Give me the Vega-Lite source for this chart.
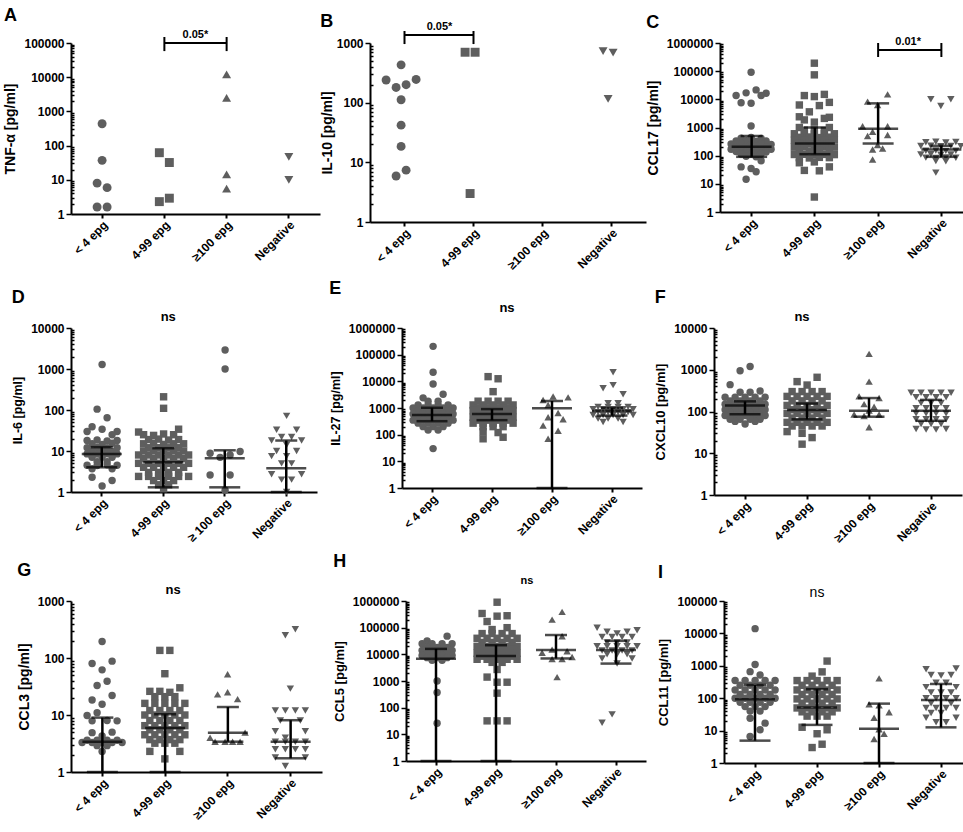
{
  "$schema": "https://vega.github.io/schema/vega-lite/v6.json",
  "padding": {"left": 3, "top": 7, "right": 0, "bottom": 0},
  "background": "white",
  "spacing": 8,
  "datasets": {
    "A": [
      {"group": "< 4 epg", "value": 436, "slot": 0},
      {"group": "< 4 epg", "value": 37, "slot": 0},
      {"group": "< 4 epg", "value": 8, "slot": -1},
      {"group": "< 4 epg", "value": 5.9, "slot": 1},
      {"group": "< 4 epg", "value": 1.6, "slot": -1},
      {"group": "< 4 epg", "value": 1.6, "slot": 1},
      {"group": "4-99 epg", "value": 62, "slot": -1},
      {"group": "4-99 epg", "value": 32, "slot": 1},
      {"group": "4-99 epg", "value": 2.9, "slot": 1},
      {"group": "4-99 epg", "value": 2.3, "slot": -1},
      {"group": "≥100 epg", "value": 12000, "slot": 0},
      {"group": "≥100 epg", "value": 2500, "slot": 0},
      {"group": "≥100 epg", "value": 14.5, "slot": 0},
      {"group": "≥100 epg", "value": 5.5, "slot": 0},
      {"group": "Negative", "value": 47, "slot": 0},
      {"group": "Negative", "value": 10, "slot": 0}
    ],
    "B": [
      {"group": "< 4 epg", "value": 430, "slot": 0},
      {"group": "< 4 epg", "value": 245, "slot": 3},
      {"group": "< 4 epg", "value": 240, "slot": -3},
      {"group": "< 4 epg", "value": 200, "slot": 1},
      {"group": "< 4 epg", "value": 180, "slot": -1},
      {"group": "< 4 epg", "value": 112, "slot": 0},
      {"group": "< 4 epg", "value": 42, "slot": 0},
      {"group": "< 4 epg", "value": 18.5, "slot": 0},
      {"group": "< 4 epg", "value": 7.4, "slot": 1},
      {"group": "< 4 epg", "value": 5.9, "slot": -1},
      {"group": "4-99 epg", "value": 700, "slot": -1},
      {"group": "4-99 epg", "value": 700, "slot": 1},
      {"group": "4-99 epg", "value": 3, "slot": 0},
      {"group": "Negative", "value": 730, "slot": -1},
      {"group": "Negative", "value": 690, "slot": 1},
      {"group": "Negative", "value": 116, "slot": 0}
    ],
    "C": [
      {"group": "< 4 epg", "value": 92000, "slot": 0},
      {"group": "< 4 epg", "value": 21600, "slot": 1},
      {"group": "< 4 epg", "value": 17000, "slot": -1},
      {"group": "< 4 epg", "value": 16500, "slot": 3},
      {"group": "< 4 epg", "value": 13600, "slot": -3},
      {"group": "< 4 epg", "value": 13600, "slot": 2},
      {"group": "< 4 epg", "value": 7600, "slot": -2},
      {"group": "< 4 epg", "value": 7300, "slot": 0},
      {"group": "< 4 epg", "value": 1130, "slot": 0},
      {"group": "< 4 epg", "value": 420, "slot": -2},
      {"group": "< 4 epg", "value": 440, "slot": 0},
      {"group": "< 4 epg", "value": 410, "slot": 2},
      {"group": "< 4 epg", "value": 330, "slot": -3},
      {"group": "< 4 epg", "value": 340, "slot": -1},
      {"group": "< 4 epg", "value": 320, "slot": 1},
      {"group": "< 4 epg", "value": 335, "slot": 3},
      {"group": "< 4 epg", "value": 260, "slot": -4},
      {"group": "< 4 epg", "value": 270, "slot": -2},
      {"group": "< 4 epg", "value": 255, "slot": 0},
      {"group": "< 4 epg", "value": 265, "slot": 2},
      {"group": "< 4 epg", "value": 250, "slot": 4},
      {"group": "< 4 epg", "value": 210, "slot": -3},
      {"group": "< 4 epg", "value": 205, "slot": -1},
      {"group": "< 4 epg", "value": 215, "slot": 1},
      {"group": "< 4 epg", "value": 200, "slot": 3},
      {"group": "< 4 epg", "value": 170, "slot": -4},
      {"group": "< 4 epg", "value": 175, "slot": -2},
      {"group": "< 4 epg", "value": 165, "slot": 0},
      {"group": "< 4 epg", "value": 172, "slot": 2},
      {"group": "< 4 epg", "value": 168, "slot": 4},
      {"group": "< 4 epg", "value": 140, "slot": -3},
      {"group": "< 4 epg", "value": 138, "slot": -1},
      {"group": "< 4 epg", "value": 142, "slot": 1},
      {"group": "< 4 epg", "value": 136, "slot": 3},
      {"group": "< 4 epg", "value": 115, "slot": -2},
      {"group": "< 4 epg", "value": 112, "slot": 0},
      {"group": "< 4 epg", "value": 118, "slot": 2},
      {"group": "< 4 epg", "value": 95, "slot": -1},
      {"group": "< 4 epg", "value": 92, "slot": 1},
      {"group": "< 4 epg", "value": 66, "slot": 2},
      {"group": "< 4 epg", "value": 40, "slot": -2},
      {"group": "< 4 epg", "value": 35, "slot": 0},
      {"group": "< 4 epg", "value": 27, "slot": 1},
      {"group": "< 4 epg", "value": 14.6, "slot": -1},
      {"group": "4-99 epg", "value": 192000, "slot": 0},
      {"group": "4-99 epg", "value": 74000, "slot": 0},
      {"group": "4-99 epg", "value": 15000, "slot": 2},
      {"group": "4-99 epg", "value": 13600, "slot": -2},
      {"group": "4-99 epg", "value": 12500, "slot": 0},
      {"group": "4-99 epg", "value": 7800, "slot": 3},
      {"group": "4-99 epg", "value": 6300, "slot": -3},
      {"group": "4-99 epg", "value": 6000, "slot": 1},
      {"group": "4-99 epg", "value": 3600, "slot": -1},
      {"group": "4-99 epg", "value": 2400, "slot": -3},
      {"group": "4-99 epg", "value": 2300, "slot": 3},
      {"group": "4-99 epg", "value": 2100, "slot": 2},
      {"group": "4-99 epg", "value": 1860, "slot": -2},
      {"group": "4-99 epg", "value": 1550, "slot": 0},
      {"group": "4-99 epg", "value": 1000, "slot": -3},
      {"group": "4-99 epg", "value": 1000, "slot": 3},
      {"group": "4-99 epg", "value": 800, "slot": -2},
      {"group": "4-99 epg", "value": 820, "slot": 0},
      {"group": "4-99 epg", "value": 780, "slot": 2},
      {"group": "4-99 epg", "value": 600, "slot": -4},
      {"group": "4-99 epg", "value": 620, "slot": -2},
      {"group": "4-99 epg", "value": 590, "slot": 0},
      {"group": "4-99 epg", "value": 610, "slot": 2},
      {"group": "4-99 epg", "value": 600, "slot": 4},
      {"group": "4-99 epg", "value": 450, "slot": -3},
      {"group": "4-99 epg", "value": 460, "slot": -1},
      {"group": "4-99 epg", "value": 440, "slot": 1},
      {"group": "4-99 epg", "value": 455, "slot": 3},
      {"group": "4-99 epg", "value": 350, "slot": -4},
      {"group": "4-99 epg", "value": 355, "slot": -2},
      {"group": "4-99 epg", "value": 345, "slot": 0},
      {"group": "4-99 epg", "value": 350, "slot": 2},
      {"group": "4-99 epg", "value": 360, "slot": 4},
      {"group": "4-99 epg", "value": 270, "slot": -3},
      {"group": "4-99 epg", "value": 275, "slot": -1},
      {"group": "4-99 epg", "value": 265, "slot": 1},
      {"group": "4-99 epg", "value": 270, "slot": 3},
      {"group": "4-99 epg", "value": 200, "slot": -4},
      {"group": "4-99 epg", "value": 205, "slot": -2},
      {"group": "4-99 epg", "value": 198, "slot": 0},
      {"group": "4-99 epg", "value": 202, "slot": 2},
      {"group": "4-99 epg", "value": 200, "slot": 4},
      {"group": "4-99 epg", "value": 150, "slot": -3},
      {"group": "4-99 epg", "value": 148, "slot": -1},
      {"group": "4-99 epg", "value": 152, "slot": 1},
      {"group": "4-99 epg", "value": 150, "slot": 3},
      {"group": "4-99 epg", "value": 110, "slot": -4},
      {"group": "4-99 epg", "value": 112, "slot": -2},
      {"group": "4-99 epg", "value": 108, "slot": 0},
      {"group": "4-99 epg", "value": 111, "slot": 2},
      {"group": "4-99 epg", "value": 109, "slot": 4},
      {"group": "4-99 epg", "value": 85, "slot": -3},
      {"group": "4-99 epg", "value": 83, "slot": -1},
      {"group": "4-99 epg", "value": 87, "slot": 1},
      {"group": "4-99 epg", "value": 85, "slot": 3},
      {"group": "4-99 epg", "value": 60, "slot": 0},
      {"group": "4-99 epg", "value": 56, "slot": -3},
      {"group": "4-99 epg", "value": 40, "slot": 3},
      {"group": "4-99 epg", "value": 30, "slot": -2},
      {"group": "4-99 epg", "value": 29, "slot": 1},
      {"group": "4-99 epg", "value": 3.4, "slot": 0},
      {"group": "≥100 epg", "value": 15000, "slot": 2},
      {"group": "≥100 epg", "value": 8300, "slot": -2},
      {"group": "≥100 epg", "value": 6300, "slot": 0},
      {"group": "≥100 epg", "value": 1100, "slot": -3},
      {"group": "≥100 epg", "value": 1100, "slot": 2},
      {"group": "≥100 epg", "value": 710, "slot": -1},
      {"group": "≥100 epg", "value": 540, "slot": 2},
      {"group": "≥100 epg", "value": 500, "slot": -2},
      {"group": "≥100 epg", "value": 240, "slot": 0},
      {"group": "≥100 epg", "value": 180, "slot": 1},
      {"group": "≥100 epg", "value": 165, "slot": -1},
      {"group": "≥100 epg", "value": 73, "slot": -1},
      {"group": "Negative", "value": 10000, "slot": -2},
      {"group": "Negative", "value": 10000, "slot": 2},
      {"group": "Negative", "value": 5800, "slot": 0},
      {"group": "Negative", "value": 300, "slot": -3},
      {"group": "Negative", "value": 310, "slot": -1},
      {"group": "Negative", "value": 295, "slot": 1},
      {"group": "Negative", "value": 305, "slot": 3},
      {"group": "Negative", "value": 220, "slot": -4},
      {"group": "Negative", "value": 225, "slot": -2},
      {"group": "Negative", "value": 215, "slot": 0},
      {"group": "Negative", "value": 222, "slot": 2},
      {"group": "Negative", "value": 218, "slot": 4},
      {"group": "Negative", "value": 150, "slot": -3},
      {"group": "Negative", "value": 152, "slot": -1},
      {"group": "Negative", "value": 148, "slot": 1},
      {"group": "Negative", "value": 150, "slot": 3},
      {"group": "Negative", "value": 110, "slot": -4},
      {"group": "Negative", "value": 112, "slot": -2},
      {"group": "Negative", "value": 108, "slot": 0},
      {"group": "Negative", "value": 110, "slot": 2},
      {"group": "Negative", "value": 85, "slot": -3},
      {"group": "Negative", "value": 83, "slot": -1},
      {"group": "Negative", "value": 87, "slot": 1},
      {"group": "Negative", "value": 84, "slot": 3},
      {"group": "Negative", "value": 65, "slot": -1},
      {"group": "Negative", "value": 63, "slot": 1},
      {"group": "Negative", "value": 25, "slot": -1}
    ],
    "D": [
      {"group": "< 4 epg", "value": 1290, "slot": 0},
      {"group": "< 4 epg", "value": 105, "slot": -1},
      {"group": "< 4 epg", "value": 65, "slot": 1},
      {"group": "< 4 epg", "value": 39, "slot": -2},
      {"group": "< 4 epg", "value": 34, "slot": 0},
      {"group": "< 4 epg", "value": 30, "slot": 3},
      {"group": "< 4 epg", "value": 30, "slot": -3},
      {"group": "< 4 epg", "value": 25, "slot": 2},
      {"group": "< 4 epg", "value": 18, "slot": -3},
      {"group": "< 4 epg", "value": 18.5, "slot": -1},
      {"group": "< 4 epg", "value": 17.5, "slot": 1},
      {"group": "< 4 epg", "value": 18, "slot": 3},
      {"group": "< 4 epg", "value": 15, "slot": -2},
      {"group": "< 4 epg", "value": 14.5, "slot": 0},
      {"group": "< 4 epg", "value": 15.5, "slot": 2},
      {"group": "< 4 epg", "value": 12, "slot": -3},
      {"group": "< 4 epg", "value": 12.2, "slot": -1},
      {"group": "< 4 epg", "value": 11.8, "slot": 1},
      {"group": "< 4 epg", "value": 12, "slot": 3},
      {"group": "< 4 epg", "value": 10, "slot": -2},
      {"group": "< 4 epg", "value": 10.2, "slot": 0},
      {"group": "< 4 epg", "value": 9.8, "slot": 2},
      {"group": "< 4 epg", "value": 8.5, "slot": -3},
      {"group": "< 4 epg", "value": 8.4, "slot": -1},
      {"group": "< 4 epg", "value": 8.6, "slot": 1},
      {"group": "< 4 epg", "value": 8.5, "slot": 3},
      {"group": "< 4 epg", "value": 7, "slot": -2},
      {"group": "< 4 epg", "value": 7, "slot": 0},
      {"group": "< 4 epg", "value": 7, "slot": 2},
      {"group": "< 4 epg", "value": 5.5, "slot": -1},
      {"group": "< 4 epg", "value": 5.5, "slot": 1},
      {"group": "< 4 epg", "value": 4.5, "slot": -3},
      {"group": "< 4 epg", "value": 4.4, "slot": -1},
      {"group": "< 4 epg", "value": 4.6, "slot": 1},
      {"group": "< 4 epg", "value": 4.5, "slot": 3},
      {"group": "< 4 epg", "value": 3.7, "slot": -2},
      {"group": "< 4 epg", "value": 3.7, "slot": 2},
      {"group": "< 4 epg", "value": 2.3, "slot": -2},
      {"group": "< 4 epg", "value": 1.9, "slot": 2},
      {"group": "< 4 epg", "value": 1.4, "slot": 0},
      {"group": "4-99 epg", "value": 210, "slot": 0},
      {"group": "4-99 epg", "value": 110, "slot": 0},
      {"group": "4-99 epg", "value": 34, "slot": 3},
      {"group": "4-99 epg", "value": 29, "slot": -5},
      {"group": "4-99 epg", "value": 25, "slot": -4},
      {"group": "4-99 epg", "value": 24, "slot": -2},
      {"group": "4-99 epg", "value": 26, "slot": 0},
      {"group": "4-99 epg", "value": 25, "slot": 2},
      {"group": "4-99 epg", "value": 19, "slot": -3},
      {"group": "4-99 epg", "value": 19.5, "slot": -1},
      {"group": "4-99 epg", "value": 18.5, "slot": 1},
      {"group": "4-99 epg", "value": 19, "slot": 3},
      {"group": "4-99 epg", "value": 15, "slot": -4},
      {"group": "4-99 epg", "value": 15.5, "slot": -2},
      {"group": "4-99 epg", "value": 14.5, "slot": 0},
      {"group": "4-99 epg", "value": 15, "slot": 2},
      {"group": "4-99 epg", "value": 15, "slot": 4},
      {"group": "4-99 epg", "value": 12, "slot": -3},
      {"group": "4-99 epg", "value": 12, "slot": -1},
      {"group": "4-99 epg", "value": 12, "slot": 1},
      {"group": "4-99 epg", "value": 12, "slot": 3},
      {"group": "4-99 epg", "value": 10, "slot": -4},
      {"group": "4-99 epg", "value": 10, "slot": -2},
      {"group": "4-99 epg", "value": 10, "slot": 0},
      {"group": "4-99 epg", "value": 10, "slot": 2},
      {"group": "4-99 epg", "value": 10, "slot": 4},
      {"group": "4-99 epg", "value": 8, "slot": -5},
      {"group": "4-99 epg", "value": 8, "slot": -3},
      {"group": "4-99 epg", "value": 8, "slot": -1},
      {"group": "4-99 epg", "value": 8, "slot": 1},
      {"group": "4-99 epg", "value": 8, "slot": 3},
      {"group": "4-99 epg", "value": 8, "slot": 5},
      {"group": "4-99 epg", "value": 6.5, "slot": -4},
      {"group": "4-99 epg", "value": 6.5, "slot": -2},
      {"group": "4-99 epg", "value": 6.5, "slot": 0},
      {"group": "4-99 epg", "value": 6.5, "slot": 2},
      {"group": "4-99 epg", "value": 6.5, "slot": 4},
      {"group": "4-99 epg", "value": 5, "slot": -5},
      {"group": "4-99 epg", "value": 5, "slot": -3},
      {"group": "4-99 epg", "value": 5, "slot": -1},
      {"group": "4-99 epg", "value": 5, "slot": 1},
      {"group": "4-99 epg", "value": 5, "slot": 3},
      {"group": "4-99 epg", "value": 5, "slot": 5},
      {"group": "4-99 epg", "value": 4, "slot": -4},
      {"group": "4-99 epg", "value": 4, "slot": -2},
      {"group": "4-99 epg", "value": 4, "slot": 0},
      {"group": "4-99 epg", "value": 4, "slot": 2},
      {"group": "4-99 epg", "value": 4, "slot": 4},
      {"group": "4-99 epg", "value": 3, "slot": -3},
      {"group": "4-99 epg", "value": 3, "slot": -1},
      {"group": "4-99 epg", "value": 3, "slot": 1},
      {"group": "4-99 epg", "value": 3, "slot": 3},
      {"group": "4-99 epg", "value": 2.4, "slot": -5},
      {"group": "4-99 epg", "value": 2.4, "slot": -3},
      {"group": "4-99 epg", "value": 2.4, "slot": -1},
      {"group": "4-99 epg", "value": 2.4, "slot": 1},
      {"group": "4-99 epg", "value": 2.4, "slot": 3},
      {"group": "4-99 epg", "value": 2.4, "slot": 5},
      {"group": "4-99 epg", "value": 1.9, "slot": -2},
      {"group": "4-99 epg", "value": 1.9, "slot": 0},
      {"group": "4-99 epg", "value": 1.9, "slot": 2},
      {"group": "4-99 epg", "value": 1.5, "slot": -1},
      {"group": "4-99 epg", "value": 1.5, "slot": 1},
      {"group": "4-99 epg", "value": 1.2, "slot": 0},
      {"group": "≥ 100 epg", "value": 2900, "slot": 0},
      {"group": "≥ 100 epg", "value": 1000, "slot": 0},
      {"group": "≥ 100 epg", "value": 9.7, "slot": 3},
      {"group": "≥ 100 epg", "value": 8.8, "slot": -3},
      {"group": "≥ 100 epg", "value": 8, "slot": 1},
      {"group": "≥ 100 epg", "value": 7, "slot": -1},
      {"group": "≥ 100 epg", "value": 2.6, "slot": -3},
      {"group": "≥ 100 epg", "value": 2.6, "slot": 1},
      {"group": "≥ 100 epg", "value": 1.1, "slot": 0},
      {"group": "Negative", "value": 72, "slot": 0},
      {"group": "Negative", "value": 33, "slot": -2},
      {"group": "Negative", "value": 33, "slot": 2},
      {"group": "Negative", "value": 22, "slot": -1},
      {"group": "Negative", "value": 22, "slot": 1},
      {"group": "Negative", "value": 18, "slot": -3},
      {"group": "Negative", "value": 18, "slot": 3},
      {"group": "Negative", "value": 14, "slot": 0},
      {"group": "Negative", "value": 10, "slot": -2},
      {"group": "Negative", "value": 10, "slot": 2},
      {"group": "Negative", "value": 7.5, "slot": -3},
      {"group": "Negative", "value": 7.5, "slot": 0},
      {"group": "Negative", "value": 5, "slot": -1},
      {"group": "Negative", "value": 5, "slot": 1},
      {"group": "Negative", "value": 2.7, "slot": -3},
      {"group": "Negative", "value": 2.7, "slot": 3},
      {"group": "Negative", "value": 2, "slot": -1},
      {"group": "Negative", "value": 2, "slot": 1},
      {"group": "Negative", "value": 1, "slot": 0}
    ],
    "E": [
      {"group": "< 4 epg", "value": 205000, "slot": 0},
      {"group": "< 4 epg", "value": 22000, "slot": 0},
      {"group": "< 4 epg", "value": 8000, "slot": 0},
      {"group": "< 4 epg", "value": 3300, "slot": 2},
      {"group": "< 4 epg", "value": 2400, "slot": -2},
      {"group": "< 4 epg", "value": 1800, "slot": -1},
      {"group": "< 4 epg", "value": 1800, "slot": 1},
      {"group": "< 4 epg", "value": 1300, "slot": -3},
      {"group": "< 4 epg", "value": 1300, "slot": -1},
      {"group": "< 4 epg", "value": 1300, "slot": 1},
      {"group": "< 4 epg", "value": 1300, "slot": 3},
      {"group": "< 4 epg", "value": 1000, "slot": -4},
      {"group": "< 4 epg", "value": 1000, "slot": -2},
      {"group": "< 4 epg", "value": 1000, "slot": 0},
      {"group": "< 4 epg", "value": 1000, "slot": 2},
      {"group": "< 4 epg", "value": 1000, "slot": 4},
      {"group": "< 4 epg", "value": 800, "slot": -3},
      {"group": "< 4 epg", "value": 800, "slot": -1},
      {"group": "< 4 epg", "value": 800, "slot": 1},
      {"group": "< 4 epg", "value": 800, "slot": 3},
      {"group": "< 4 epg", "value": 600, "slot": -4},
      {"group": "< 4 epg", "value": 600, "slot": -2},
      {"group": "< 4 epg", "value": 600, "slot": 0},
      {"group": "< 4 epg", "value": 600, "slot": 2},
      {"group": "< 4 epg", "value": 600, "slot": 4},
      {"group": "< 4 epg", "value": 450, "slot": -3},
      {"group": "< 4 epg", "value": 450, "slot": -1},
      {"group": "< 4 epg", "value": 450, "slot": 1},
      {"group": "< 4 epg", "value": 450, "slot": 3},
      {"group": "< 4 epg", "value": 350, "slot": -4},
      {"group": "< 4 epg", "value": 350, "slot": -2},
      {"group": "< 4 epg", "value": 350, "slot": 0},
      {"group": "< 4 epg", "value": 350, "slot": 2},
      {"group": "< 4 epg", "value": 350, "slot": 4},
      {"group": "< 4 epg", "value": 270, "slot": -3},
      {"group": "< 4 epg", "value": 270, "slot": -1},
      {"group": "< 4 epg", "value": 270, "slot": 1},
      {"group": "< 4 epg", "value": 270, "slot": 3},
      {"group": "< 4 epg", "value": 200, "slot": -2},
      {"group": "< 4 epg", "value": 200, "slot": 0},
      {"group": "< 4 epg", "value": 200, "slot": 2},
      {"group": "< 4 epg", "value": 150, "slot": -1},
      {"group": "< 4 epg", "value": 150, "slot": 1},
      {"group": "< 4 epg", "value": 30, "slot": 0},
      {"group": "4-99 epg", "value": 15000, "slot": -1},
      {"group": "4-99 epg", "value": 12500, "slot": 1},
      {"group": "4-99 epg", "value": 4100, "slot": 0},
      {"group": "4-99 epg", "value": 1800, "slot": -3},
      {"group": "4-99 epg", "value": 1800, "slot": -1},
      {"group": "4-99 epg", "value": 1800, "slot": 1},
      {"group": "4-99 epg", "value": 1800, "slot": 3},
      {"group": "4-99 epg", "value": 1300, "slot": -4},
      {"group": "4-99 epg", "value": 1300, "slot": -2},
      {"group": "4-99 epg", "value": 1300, "slot": 0},
      {"group": "4-99 epg", "value": 1300, "slot": 2},
      {"group": "4-99 epg", "value": 1300, "slot": 4},
      {"group": "4-99 epg", "value": 1000, "slot": -3},
      {"group": "4-99 epg", "value": 1000, "slot": -1},
      {"group": "4-99 epg", "value": 1000, "slot": 1},
      {"group": "4-99 epg", "value": 1000, "slot": 3},
      {"group": "4-99 epg", "value": 800, "slot": -4},
      {"group": "4-99 epg", "value": 800, "slot": -2},
      {"group": "4-99 epg", "value": 800, "slot": 0},
      {"group": "4-99 epg", "value": 800, "slot": 2},
      {"group": "4-99 epg", "value": 800, "slot": 4},
      {"group": "4-99 epg", "value": 600, "slot": -3},
      {"group": "4-99 epg", "value": 600, "slot": -1},
      {"group": "4-99 epg", "value": 600, "slot": 1},
      {"group": "4-99 epg", "value": 600, "slot": 3},
      {"group": "4-99 epg", "value": 450, "slot": -4},
      {"group": "4-99 epg", "value": 450, "slot": -2},
      {"group": "4-99 epg", "value": 450, "slot": 0},
      {"group": "4-99 epg", "value": 450, "slot": 2},
      {"group": "4-99 epg", "value": 450, "slot": 4},
      {"group": "4-99 epg", "value": 350, "slot": -3},
      {"group": "4-99 epg", "value": 350, "slot": -1},
      {"group": "4-99 epg", "value": 350, "slot": 1},
      {"group": "4-99 epg", "value": 350, "slot": 3},
      {"group": "4-99 epg", "value": 270, "slot": -4},
      {"group": "4-99 epg", "value": 270, "slot": -2},
      {"group": "4-99 epg", "value": 270, "slot": 0},
      {"group": "4-99 epg", "value": 270, "slot": 2},
      {"group": "4-99 epg", "value": 270, "slot": 4},
      {"group": "4-99 epg", "value": 200, "slot": -2},
      {"group": "4-99 epg", "value": 200, "slot": 0},
      {"group": "4-99 epg", "value": 200, "slot": 2},
      {"group": "4-99 epg", "value": 130, "slot": -2},
      {"group": "4-99 epg", "value": 120, "slot": 1},
      {"group": "4-99 epg", "value": 80, "slot": 2},
      {"group": "4-99 epg", "value": 70, "slot": -2},
      {"group": "≥100 epg", "value": 2700, "slot": 0},
      {"group": "≥100 epg", "value": 2500, "slot": 3},
      {"group": "≥100 epg", "value": 2000, "slot": -2},
      {"group": "≥100 epg", "value": 1300, "slot": -1},
      {"group": "≥100 epg", "value": 650, "slot": 1},
      {"group": "≥100 epg", "value": 450, "slot": -1},
      {"group": "≥100 epg", "value": 380, "slot": 2},
      {"group": "≥100 epg", "value": 220, "slot": -2},
      {"group": "≥100 epg", "value": 140, "slot": 1},
      {"group": "≥100 epg", "value": 70, "slot": -1},
      {"group": "Negative", "value": 22000, "slot": 0},
      {"group": "Negative", "value": 7200, "slot": 0},
      {"group": "Negative", "value": 5500, "slot": -2},
      {"group": "Negative", "value": 3300, "slot": 2},
      {"group": "Negative", "value": 1500, "slot": -1},
      {"group": "Negative", "value": 1500, "slot": 1},
      {"group": "Negative", "value": 1100, "slot": -3},
      {"group": "Negative", "value": 1100, "slot": -1},
      {"group": "Negative", "value": 1100, "slot": 1},
      {"group": "Negative", "value": 1100, "slot": 3},
      {"group": "Negative", "value": 900, "slot": -4},
      {"group": "Negative", "value": 900, "slot": -2},
      {"group": "Negative", "value": 900, "slot": 0},
      {"group": "Negative", "value": 900, "slot": 2},
      {"group": "Negative", "value": 900, "slot": 4},
      {"group": "Negative", "value": 700, "slot": -3},
      {"group": "Negative", "value": 700, "slot": -1},
      {"group": "Negative", "value": 700, "slot": 1},
      {"group": "Negative", "value": 700, "slot": 3},
      {"group": "Negative", "value": 550, "slot": -4},
      {"group": "Negative", "value": 550, "slot": -2},
      {"group": "Negative", "value": 550, "slot": 0},
      {"group": "Negative", "value": 550, "slot": 2},
      {"group": "Negative", "value": 550, "slot": 4},
      {"group": "Negative", "value": 400, "slot": -3},
      {"group": "Negative", "value": 400, "slot": -1},
      {"group": "Negative", "value": 400, "slot": 1},
      {"group": "Negative", "value": 300, "slot": -2},
      {"group": "Negative", "value": 300, "slot": 2}
    ],
    "F": [
      {"group": "< 4 epg", "value": 1200, "slot": 1},
      {"group": "< 4 epg", "value": 950, "slot": -1},
      {"group": "< 4 epg", "value": 440, "slot": -3},
      {"group": "< 4 epg", "value": 310, "slot": 3},
      {"group": "< 4 epg", "value": 290, "slot": -1},
      {"group": "< 4 epg", "value": 290, "slot": 1},
      {"group": "< 4 epg", "value": 220, "slot": -4},
      {"group": "< 4 epg", "value": 220, "slot": -2},
      {"group": "< 4 epg", "value": 220, "slot": 0},
      {"group": "< 4 epg", "value": 220, "slot": 2},
      {"group": "< 4 epg", "value": 220, "slot": 4},
      {"group": "< 4 epg", "value": 180, "slot": -3},
      {"group": "< 4 epg", "value": 180, "slot": -1},
      {"group": "< 4 epg", "value": 180, "slot": 1},
      {"group": "< 4 epg", "value": 180, "slot": 3},
      {"group": "< 4 epg", "value": 150, "slot": -4},
      {"group": "< 4 epg", "value": 150, "slot": -2},
      {"group": "< 4 epg", "value": 150, "slot": 0},
      {"group": "< 4 epg", "value": 150, "slot": 2},
      {"group": "< 4 epg", "value": 150, "slot": 4},
      {"group": "< 4 epg", "value": 130, "slot": -3},
      {"group": "< 4 epg", "value": 130, "slot": -1},
      {"group": "< 4 epg", "value": 130, "slot": 1},
      {"group": "< 4 epg", "value": 130, "slot": 3},
      {"group": "< 4 epg", "value": 110, "slot": -4},
      {"group": "< 4 epg", "value": 110, "slot": -2},
      {"group": "< 4 epg", "value": 110, "slot": 0},
      {"group": "< 4 epg", "value": 110, "slot": 2},
      {"group": "< 4 epg", "value": 110, "slot": 4},
      {"group": "< 4 epg", "value": 95, "slot": -3},
      {"group": "< 4 epg", "value": 95, "slot": -1},
      {"group": "< 4 epg", "value": 95, "slot": 1},
      {"group": "< 4 epg", "value": 95, "slot": 3},
      {"group": "< 4 epg", "value": 80, "slot": -4},
      {"group": "< 4 epg", "value": 80, "slot": -2},
      {"group": "< 4 epg", "value": 80, "slot": 0},
      {"group": "< 4 epg", "value": 80, "slot": 2},
      {"group": "< 4 epg", "value": 80, "slot": 4},
      {"group": "< 4 epg", "value": 65, "slot": -3},
      {"group": "< 4 epg", "value": 65, "slot": -1},
      {"group": "< 4 epg", "value": 65, "slot": 1},
      {"group": "< 4 epg", "value": 65, "slot": 3},
      {"group": "< 4 epg", "value": 58, "slot": -2},
      {"group": "< 4 epg", "value": 58, "slot": 2},
      {"group": "< 4 epg", "value": 50, "slot": 0},
      {"group": "4-99 epg", "value": 660, "slot": 2},
      {"group": "4-99 epg", "value": 520, "slot": -2},
      {"group": "4-99 epg", "value": 430, "slot": 0},
      {"group": "4-99 epg", "value": 300, "slot": -3},
      {"group": "4-99 epg", "value": 300, "slot": -1},
      {"group": "4-99 epg", "value": 300, "slot": 1},
      {"group": "4-99 epg", "value": 300, "slot": 3},
      {"group": "4-99 epg", "value": 230, "slot": -4},
      {"group": "4-99 epg", "value": 230, "slot": -2},
      {"group": "4-99 epg", "value": 230, "slot": 0},
      {"group": "4-99 epg", "value": 230, "slot": 2},
      {"group": "4-99 epg", "value": 230, "slot": 4},
      {"group": "4-99 epg", "value": 180, "slot": -3},
      {"group": "4-99 epg", "value": 180, "slot": -1},
      {"group": "4-99 epg", "value": 180, "slot": 1},
      {"group": "4-99 epg", "value": 180, "slot": 3},
      {"group": "4-99 epg", "value": 140, "slot": -4},
      {"group": "4-99 epg", "value": 140, "slot": -2},
      {"group": "4-99 epg", "value": 140, "slot": 0},
      {"group": "4-99 epg", "value": 140, "slot": 2},
      {"group": "4-99 epg", "value": 140, "slot": 4},
      {"group": "4-99 epg", "value": 110, "slot": -3},
      {"group": "4-99 epg", "value": 110, "slot": -1},
      {"group": "4-99 epg", "value": 110, "slot": 1},
      {"group": "4-99 epg", "value": 110, "slot": 3},
      {"group": "4-99 epg", "value": 90, "slot": -4},
      {"group": "4-99 epg", "value": 90, "slot": -2},
      {"group": "4-99 epg", "value": 90, "slot": 0},
      {"group": "4-99 epg", "value": 90, "slot": 2},
      {"group": "4-99 epg", "value": 90, "slot": 4},
      {"group": "4-99 epg", "value": 70, "slot": -3},
      {"group": "4-99 epg", "value": 70, "slot": -1},
      {"group": "4-99 epg", "value": 70, "slot": 1},
      {"group": "4-99 epg", "value": 70, "slot": 3},
      {"group": "4-99 epg", "value": 55, "slot": -4},
      {"group": "4-99 epg", "value": 55, "slot": -2},
      {"group": "4-99 epg", "value": 55, "slot": 0},
      {"group": "4-99 epg", "value": 55, "slot": 2},
      {"group": "4-99 epg", "value": 55, "slot": 4},
      {"group": "4-99 epg", "value": 45, "slot": -3},
      {"group": "4-99 epg", "value": 45, "slot": -1},
      {"group": "4-99 epg", "value": 45, "slot": 1},
      {"group": "4-99 epg", "value": 45, "slot": 3},
      {"group": "4-99 epg", "value": 33, "slot": -4},
      {"group": "4-99 epg", "value": 30, "slot": -1},
      {"group": "4-99 epg", "value": 23.7, "slot": 1},
      {"group": "4-99 epg", "value": 16.5, "slot": -1},
      {"group": "≥100 epg", "value": 2400, "slot": 0},
      {"group": "≥100 epg", "value": 520, "slot": 0},
      {"group": "≥100 epg", "value": 230, "slot": -2},
      {"group": "≥100 epg", "value": 210, "slot": 2},
      {"group": "≥100 epg", "value": 150, "slot": -1},
      {"group": "≥100 epg", "value": 130, "slot": 1},
      {"group": "≥100 epg", "value": 105, "slot": 0},
      {"group": "≥100 epg", "value": 85, "slot": -3},
      {"group": "≥100 epg", "value": 85, "slot": 2},
      {"group": "≥100 epg", "value": 78, "slot": -1},
      {"group": "≥100 epg", "value": 42, "slot": 0},
      {"group": "Negative", "value": 280, "slot": -4},
      {"group": "Negative", "value": 280, "slot": -2},
      {"group": "Negative", "value": 280, "slot": 0},
      {"group": "Negative", "value": 280, "slot": 2},
      {"group": "Negative", "value": 280, "slot": 4},
      {"group": "Negative", "value": 220, "slot": -3},
      {"group": "Negative", "value": 220, "slot": -1},
      {"group": "Negative", "value": 220, "slot": 1},
      {"group": "Negative", "value": 220, "slot": 3},
      {"group": "Negative", "value": 160, "slot": -2},
      {"group": "Negative", "value": 160, "slot": 0},
      {"group": "Negative", "value": 160, "slot": 2},
      {"group": "Negative", "value": 120, "slot": -3},
      {"group": "Negative", "value": 120, "slot": -1},
      {"group": "Negative", "value": 120, "slot": 1},
      {"group": "Negative", "value": 120, "slot": 3},
      {"group": "Negative", "value": 90, "slot": -3},
      {"group": "Negative", "value": 90, "slot": -1},
      {"group": "Negative", "value": 90, "slot": 1},
      {"group": "Negative", "value": 90, "slot": 3},
      {"group": "Negative", "value": 65, "slot": -3},
      {"group": "Negative", "value": 65, "slot": -1},
      {"group": "Negative", "value": 65, "slot": 1},
      {"group": "Negative", "value": 65, "slot": 3},
      {"group": "Negative", "value": 50, "slot": -2},
      {"group": "Negative", "value": 50, "slot": 0},
      {"group": "Negative", "value": 50, "slot": 2},
      {"group": "Negative", "value": 38, "slot": -3},
      {"group": "Negative", "value": 37, "slot": -1},
      {"group": "Negative", "value": 37, "slot": 1},
      {"group": "Negative", "value": 38, "slot": 3}
    ],
    "G": [
      {"group": "< 4 epg", "value": 195, "slot": 0},
      {"group": "< 4 epg", "value": 88, "slot": 2},
      {"group": "< 4 epg", "value": 80, "slot": -2},
      {"group": "< 4 epg", "value": 62, "slot": 0},
      {"group": "< 4 epg", "value": 39, "slot": 1},
      {"group": "< 4 epg", "value": 33, "slot": -1},
      {"group": "< 4 epg", "value": 22, "slot": 2},
      {"group": "< 4 epg", "value": 18.3, "slot": -2},
      {"group": "< 4 epg", "value": 15.4, "slot": 0},
      {"group": "< 4 epg", "value": 11, "slot": -1},
      {"group": "< 4 epg", "value": 9.8, "slot": -3},
      {"group": "< 4 epg", "value": 8, "slot": 1},
      {"group": "< 4 epg", "value": 7.9, "slot": -2},
      {"group": "< 4 epg", "value": 7.9, "slot": 3},
      {"group": "< 4 epg", "value": 5, "slot": 2},
      {"group": "< 4 epg", "value": 4.9, "slot": -2},
      {"group": "< 4 epg", "value": 4.3, "slot": 0},
      {"group": "< 4 epg", "value": 3.6, "slot": -3},
      {"group": "< 4 epg", "value": 3.6, "slot": -1},
      {"group": "< 4 epg", "value": 3.6, "slot": 1},
      {"group": "< 4 epg", "value": 3.6, "slot": 3},
      {"group": "< 4 epg", "value": 3.3, "slot": -4},
      {"group": "< 4 epg", "value": 3.3, "slot": -2},
      {"group": "< 4 epg", "value": 3.3, "slot": 0},
      {"group": "< 4 epg", "value": 3.3, "slot": 2},
      {"group": "< 4 epg", "value": 3.3, "slot": 4},
      {"group": "< 4 epg", "value": 2.9, "slot": -1},
      {"group": "< 4 epg", "value": 2.9, "slot": 1},
      {"group": "< 4 epg", "value": 2.3, "slot": 0},
      {"group": "4-99 epg", "value": 136, "slot": -1},
      {"group": "4-99 epg", "value": 136, "slot": 1},
      {"group": "4-99 epg", "value": 53, "slot": 0},
      {"group": "4-99 epg", "value": 30, "slot": 3},
      {"group": "4-99 epg", "value": 26, "slot": -3},
      {"group": "4-99 epg", "value": 26, "slot": -1},
      {"group": "4-99 epg", "value": 25, "slot": 1},
      {"group": "4-99 epg", "value": 21, "slot": -2},
      {"group": "4-99 epg", "value": 21, "slot": 0},
      {"group": "4-99 epg", "value": 21, "slot": 2},
      {"group": "4-99 epg", "value": 16, "slot": -4},
      {"group": "4-99 epg", "value": 16, "slot": -2},
      {"group": "4-99 epg", "value": 16, "slot": 0},
      {"group": "4-99 epg", "value": 16, "slot": 2},
      {"group": "4-99 epg", "value": 16, "slot": 4},
      {"group": "4-99 epg", "value": 12, "slot": -3},
      {"group": "4-99 epg", "value": 12, "slot": -1},
      {"group": "4-99 epg", "value": 12, "slot": 1},
      {"group": "4-99 epg", "value": 12, "slot": 3},
      {"group": "4-99 epg", "value": 10, "slot": -4},
      {"group": "4-99 epg", "value": 10, "slot": -2},
      {"group": "4-99 epg", "value": 10, "slot": 0},
      {"group": "4-99 epg", "value": 10, "slot": 2},
      {"group": "4-99 epg", "value": 10, "slot": 4},
      {"group": "4-99 epg", "value": 8, "slot": -3},
      {"group": "4-99 epg", "value": 8, "slot": -1},
      {"group": "4-99 epg", "value": 8, "slot": 1},
      {"group": "4-99 epg", "value": 8, "slot": 3},
      {"group": "4-99 epg", "value": 6.5, "slot": -4},
      {"group": "4-99 epg", "value": 6.5, "slot": -2},
      {"group": "4-99 epg", "value": 6.5, "slot": 0},
      {"group": "4-99 epg", "value": 6.5, "slot": 2},
      {"group": "4-99 epg", "value": 6.5, "slot": 4},
      {"group": "4-99 epg", "value": 5.5, "slot": -3},
      {"group": "4-99 epg", "value": 5.5, "slot": -1},
      {"group": "4-99 epg", "value": 5.5, "slot": 1},
      {"group": "4-99 epg", "value": 5.5, "slot": 3},
      {"group": "4-99 epg", "value": 4.5, "slot": -4},
      {"group": "4-99 epg", "value": 4.5, "slot": -2},
      {"group": "4-99 epg", "value": 4.5, "slot": 0},
      {"group": "4-99 epg", "value": 4.5, "slot": 2},
      {"group": "4-99 epg", "value": 4.5, "slot": 4},
      {"group": "4-99 epg", "value": 3.7, "slot": -3},
      {"group": "4-99 epg", "value": 3.7, "slot": -1},
      {"group": "4-99 epg", "value": 3.7, "slot": 1},
      {"group": "4-99 epg", "value": 3.7, "slot": 3},
      {"group": "4-99 epg", "value": 3.2, "slot": -2},
      {"group": "4-99 epg", "value": 3.2, "slot": 0},
      {"group": "4-99 epg", "value": 3.2, "slot": 2},
      {"group": "4-99 epg", "value": 2.3, "slot": -3},
      {"group": "4-99 epg", "value": 2.3, "slot": 3},
      {"group": "4-99 epg", "value": 1.7, "slot": 0},
      {"group": "≥100 epg", "value": 52, "slot": 0},
      {"group": "≥100 epg", "value": 25, "slot": 0},
      {"group": "≥100 epg", "value": 23, "slot": -2},
      {"group": "≥100 epg", "value": 19, "slot": 2},
      {"group": "≥100 epg", "value": 4.9, "slot": 3.5},
      {"group": "≥100 epg", "value": 4, "slot": -3.5},
      {"group": "≥100 epg", "value": 3.4, "slot": -2.5},
      {"group": "≥100 epg", "value": 3.4, "slot": -0.5},
      {"group": "≥100 epg", "value": 3.4, "slot": 1},
      {"group": "≥100 epg", "value": 3.4, "slot": 2.5},
      {"group": "Negative", "value": 320, "slot": 1},
      {"group": "Negative", "value": 250, "slot": -1},
      {"group": "Negative", "value": 29, "slot": 0},
      {"group": "Negative", "value": 12, "slot": -3},
      {"group": "Negative", "value": 12, "slot": -1},
      {"group": "Negative", "value": 12, "slot": 1},
      {"group": "Negative", "value": 12, "slot": 3},
      {"group": "Negative", "value": 8, "slot": -2},
      {"group": "Negative", "value": 8, "slot": 2},
      {"group": "Negative", "value": 5.2, "slot": -3},
      {"group": "Negative", "value": 5.2, "slot": 3},
      {"group": "Negative", "value": 4, "slot": -1},
      {"group": "Negative", "value": 3.4, "slot": -3},
      {"group": "Negative", "value": 3.4, "slot": -1},
      {"group": "Negative", "value": 3.4, "slot": 1},
      {"group": "Negative", "value": 3.4, "slot": 3},
      {"group": "Negative", "value": 2.5, "slot": -3},
      {"group": "Negative", "value": 2.5, "slot": -1},
      {"group": "Negative", "value": 2.5, "slot": 1},
      {"group": "Negative", "value": 2.5, "slot": 3},
      {"group": "Negative", "value": 1.8, "slot": -3},
      {"group": "Negative", "value": 1.8, "slot": 3},
      {"group": "Negative", "value": 1.27, "slot": -1}
    ],
    "H": [
      {"group": "< 4 epg", "value": 48000, "slot": 2},
      {"group": "< 4 epg", "value": 32000, "slot": -2},
      {"group": "< 4 epg", "value": 25000, "slot": -3},
      {"group": "< 4 epg", "value": 25000, "slot": -1},
      {"group": "< 4 epg", "value": 25000, "slot": 1},
      {"group": "< 4 epg", "value": 25000, "slot": 3},
      {"group": "< 4 epg", "value": 18000, "slot": -2},
      {"group": "< 4 epg", "value": 18000, "slot": 0},
      {"group": "< 4 epg", "value": 18000, "slot": 2},
      {"group": "< 4 epg", "value": 14000, "slot": -3},
      {"group": "< 4 epg", "value": 14000, "slot": -1},
      {"group": "< 4 epg", "value": 14000, "slot": 1},
      {"group": "< 4 epg", "value": 14000, "slot": 3},
      {"group": "< 4 epg", "value": 11000, "slot": -2},
      {"group": "< 4 epg", "value": 11000, "slot": 0},
      {"group": "< 4 epg", "value": 11000, "slot": 2},
      {"group": "< 4 epg", "value": 9000, "slot": -3},
      {"group": "< 4 epg", "value": 9000, "slot": -1},
      {"group": "< 4 epg", "value": 9000, "slot": 1},
      {"group": "< 4 epg", "value": 9000, "slot": 3},
      {"group": "< 4 epg", "value": 7500, "slot": -2},
      {"group": "< 4 epg", "value": 7500, "slot": 0},
      {"group": "< 4 epg", "value": 7500, "slot": 2},
      {"group": "< 4 epg", "value": 6000, "slot": -1},
      {"group": "< 4 epg", "value": 6000, "slot": 1},
      {"group": "< 4 epg", "value": 1000, "slot": 0},
      {"group": "< 4 epg", "value": 370, "slot": 0},
      {"group": "< 4 epg", "value": 26, "slot": 0},
      {"group": "4-99 epg", "value": 900000, "slot": 0},
      {"group": "4-99 epg", "value": 340000, "slot": -3},
      {"group": "4-99 epg", "value": 280000, "slot": 2},
      {"group": "4-99 epg", "value": 270000, "slot": 0},
      {"group": "4-99 epg", "value": 170000, "slot": -2},
      {"group": "4-99 epg", "value": 100000, "slot": 2},
      {"group": "4-99 epg", "value": 85000, "slot": -1},
      {"group": "4-99 epg", "value": 60000, "slot": -3},
      {"group": "4-99 epg", "value": 60000, "slot": -1},
      {"group": "4-99 epg", "value": 60000, "slot": 1},
      {"group": "4-99 epg", "value": 60000, "slot": 3},
      {"group": "4-99 epg", "value": 40000, "slot": -4},
      {"group": "4-99 epg", "value": 40000, "slot": -2},
      {"group": "4-99 epg", "value": 40000, "slot": 0},
      {"group": "4-99 epg", "value": 40000, "slot": 2},
      {"group": "4-99 epg", "value": 40000, "slot": 4},
      {"group": "4-99 epg", "value": 28000, "slot": -3},
      {"group": "4-99 epg", "value": 28000, "slot": -1},
      {"group": "4-99 epg", "value": 28000, "slot": 1},
      {"group": "4-99 epg", "value": 28000, "slot": 3},
      {"group": "4-99 epg", "value": 20000, "slot": -4},
      {"group": "4-99 epg", "value": 20000, "slot": -2},
      {"group": "4-99 epg", "value": 20000, "slot": 0},
      {"group": "4-99 epg", "value": 20000, "slot": 2},
      {"group": "4-99 epg", "value": 20000, "slot": 4},
      {"group": "4-99 epg", "value": 15000, "slot": -3},
      {"group": "4-99 epg", "value": 15000, "slot": -1},
      {"group": "4-99 epg", "value": 15000, "slot": 1},
      {"group": "4-99 epg", "value": 15000, "slot": 3},
      {"group": "4-99 epg", "value": 11000, "slot": -4},
      {"group": "4-99 epg", "value": 11000, "slot": -2},
      {"group": "4-99 epg", "value": 11000, "slot": 0},
      {"group": "4-99 epg", "value": 11000, "slot": 2},
      {"group": "4-99 epg", "value": 11000, "slot": 4},
      {"group": "4-99 epg", "value": 8500, "slot": -3},
      {"group": "4-99 epg", "value": 8500, "slot": -1},
      {"group": "4-99 epg", "value": 8500, "slot": 1},
      {"group": "4-99 epg", "value": 8500, "slot": 3},
      {"group": "4-99 epg", "value": 6500, "slot": -4},
      {"group": "4-99 epg", "value": 6500, "slot": -2},
      {"group": "4-99 epg", "value": 6500, "slot": 0},
      {"group": "4-99 epg", "value": 6500, "slot": 2},
      {"group": "4-99 epg", "value": 6500, "slot": 4},
      {"group": "4-99 epg", "value": 5000, "slot": -1},
      {"group": "4-99 epg", "value": 5000, "slot": 1},
      {"group": "4-99 epg", "value": 2700, "slot": 0},
      {"group": "4-99 epg", "value": 1400, "slot": -2},
      {"group": "4-99 epg", "value": 900, "slot": 0},
      {"group": "4-99 epg", "value": 900, "slot": 2},
      {"group": "4-99 epg", "value": 350, "slot": 0},
      {"group": "4-99 epg", "value": 32, "slot": -2},
      {"group": "4-99 epg", "value": 32, "slot": 0},
      {"group": "4-99 epg", "value": 32, "slot": 2},
      {"group": "≥100 epg", "value": 390000, "slot": 1},
      {"group": "≥100 epg", "value": 200000, "slot": -1},
      {"group": "≥100 epg", "value": 48000, "slot": 1},
      {"group": "≥100 epg", "value": 15000, "slot": -1},
      {"group": "≥100 epg", "value": 13000, "slot": 2},
      {"group": "≥100 epg", "value": 11500, "slot": -3},
      {"group": "≥100 epg", "value": 8000, "slot": 3},
      {"group": "≥100 epg", "value": 6600, "slot": -1},
      {"group": "≥100 epg", "value": 6600, "slot": 1},
      {"group": "≥100 epg", "value": 1400, "slot": 0},
      {"group": "Negative", "value": 100000, "slot": -4},
      {"group": "Negative", "value": 70000, "slot": -2},
      {"group": "Negative", "value": 60000, "slot": 0},
      {"group": "Negative", "value": 70000, "slot": 2},
      {"group": "Negative", "value": 80000, "slot": 4},
      {"group": "Negative", "value": 45000, "slot": -3},
      {"group": "Negative", "value": 45000, "slot": -1},
      {"group": "Negative", "value": 45000, "slot": 1},
      {"group": "Negative", "value": 45000, "slot": 3},
      {"group": "Negative", "value": 28000, "slot": -2},
      {"group": "Negative", "value": 28000, "slot": 0},
      {"group": "Negative", "value": 28000, "slot": 2},
      {"group": "Negative", "value": 20000, "slot": -4},
      {"group": "Negative", "value": 20000, "slot": -2},
      {"group": "Negative", "value": 20000, "slot": 0},
      {"group": "Negative", "value": 20000, "slot": 2},
      {"group": "Negative", "value": 20000, "slot": 4},
      {"group": "Negative", "value": 14000, "slot": -3},
      {"group": "Negative", "value": 14000, "slot": -1},
      {"group": "Negative", "value": 14000, "slot": 1},
      {"group": "Negative", "value": 14000, "slot": 3},
      {"group": "Negative", "value": 10000, "slot": -2},
      {"group": "Negative", "value": 10000, "slot": 0},
      {"group": "Negative", "value": 10000, "slot": 2},
      {"group": "Negative", "value": 7000, "slot": -3},
      {"group": "Negative", "value": 7000, "slot": 3},
      {"group": "Negative", "value": 4500, "slot": 0},
      {"group": "Negative", "value": 56, "slot": -1},
      {"group": "Negative", "value": 27, "slot": -3}
    ],
    "I": [
      {"group": "< 4 epg", "value": 14000, "slot": 0},
      {"group": "< 4 epg", "value": 1100, "slot": 0},
      {"group": "< 4 epg", "value": 660, "slot": -1},
      {"group": "< 4 epg", "value": 520, "slot": 1},
      {"group": "< 4 epg", "value": 350, "slot": -4},
      {"group": "< 4 epg", "value": 350, "slot": -2},
      {"group": "< 4 epg", "value": 350, "slot": 0},
      {"group": "< 4 epg", "value": 350, "slot": 2},
      {"group": "< 4 epg", "value": 350, "slot": 4},
      {"group": "< 4 epg", "value": 250, "slot": -3},
      {"group": "< 4 epg", "value": 250, "slot": -1},
      {"group": "< 4 epg", "value": 250, "slot": 1},
      {"group": "< 4 epg", "value": 250, "slot": 3},
      {"group": "< 4 epg", "value": 180, "slot": -4},
      {"group": "< 4 epg", "value": 180, "slot": -2},
      {"group": "< 4 epg", "value": 180, "slot": 0},
      {"group": "< 4 epg", "value": 180, "slot": 2},
      {"group": "< 4 epg", "value": 180, "slot": 4},
      {"group": "< 4 epg", "value": 130, "slot": -3},
      {"group": "< 4 epg", "value": 130, "slot": -1},
      {"group": "< 4 epg", "value": 130, "slot": 1},
      {"group": "< 4 epg", "value": 130, "slot": 3},
      {"group": "< 4 epg", "value": 100, "slot": -4},
      {"group": "< 4 epg", "value": 100, "slot": -2},
      {"group": "< 4 epg", "value": 100, "slot": 0},
      {"group": "< 4 epg", "value": 100, "slot": 2},
      {"group": "< 4 epg", "value": 100, "slot": 4},
      {"group": "< 4 epg", "value": 75, "slot": -3},
      {"group": "< 4 epg", "value": 75, "slot": -1},
      {"group": "< 4 epg", "value": 75, "slot": 1},
      {"group": "< 4 epg", "value": 75, "slot": 3},
      {"group": "< 4 epg", "value": 55, "slot": -2},
      {"group": "< 4 epg", "value": 55, "slot": 0},
      {"group": "< 4 epg", "value": 55, "slot": 2},
      {"group": "< 4 epg", "value": 40, "slot": -1},
      {"group": "< 4 epg", "value": 40, "slot": 1},
      {"group": "< 4 epg", "value": 24, "slot": -1},
      {"group": "< 4 epg", "value": 17, "slot": 2},
      {"group": "< 4 epg", "value": 10.6, "slot": 1},
      {"group": "< 4 epg", "value": 6.6, "slot": -1},
      {"group": "4-99 epg", "value": 1400, "slot": 2},
      {"group": "4-99 epg", "value": 650, "slot": 1},
      {"group": "4-99 epg", "value": 480, "slot": -1},
      {"group": "4-99 epg", "value": 350, "slot": -4},
      {"group": "4-99 epg", "value": 350, "slot": -2},
      {"group": "4-99 epg", "value": 350, "slot": 0},
      {"group": "4-99 epg", "value": 350, "slot": 2},
      {"group": "4-99 epg", "value": 350, "slot": 4},
      {"group": "4-99 epg", "value": 250, "slot": -3},
      {"group": "4-99 epg", "value": 250, "slot": -1},
      {"group": "4-99 epg", "value": 250, "slot": 1},
      {"group": "4-99 epg", "value": 250, "slot": 3},
      {"group": "4-99 epg", "value": 180, "slot": -4},
      {"group": "4-99 epg", "value": 180, "slot": -2},
      {"group": "4-99 epg", "value": 180, "slot": 0},
      {"group": "4-99 epg", "value": 180, "slot": 2},
      {"group": "4-99 epg", "value": 180, "slot": 4},
      {"group": "4-99 epg", "value": 130, "slot": -3},
      {"group": "4-99 epg", "value": 130, "slot": -1},
      {"group": "4-99 epg", "value": 130, "slot": 1},
      {"group": "4-99 epg", "value": 130, "slot": 3},
      {"group": "4-99 epg", "value": 95, "slot": -4},
      {"group": "4-99 epg", "value": 95, "slot": -2},
      {"group": "4-99 epg", "value": 95, "slot": 0},
      {"group": "4-99 epg", "value": 95, "slot": 2},
      {"group": "4-99 epg", "value": 95, "slot": 4},
      {"group": "4-99 epg", "value": 70, "slot": -3},
      {"group": "4-99 epg", "value": 70, "slot": -1},
      {"group": "4-99 epg", "value": 70, "slot": 1},
      {"group": "4-99 epg", "value": 70, "slot": 3},
      {"group": "4-99 epg", "value": 50, "slot": -4},
      {"group": "4-99 epg", "value": 50, "slot": -2},
      {"group": "4-99 epg", "value": 50, "slot": 0},
      {"group": "4-99 epg", "value": 50, "slot": 2},
      {"group": "4-99 epg", "value": 50, "slot": 4},
      {"group": "4-99 epg", "value": 38, "slot": -3},
      {"group": "4-99 epg", "value": 38, "slot": -1},
      {"group": "4-99 epg", "value": 38, "slot": 1},
      {"group": "4-99 epg", "value": 38, "slot": 3},
      {"group": "4-99 epg", "value": 28, "slot": -2},
      {"group": "4-99 epg", "value": 28, "slot": 0},
      {"group": "4-99 epg", "value": 28, "slot": 2},
      {"group": "4-99 epg", "value": 12.7, "slot": -3},
      {"group": "4-99 epg", "value": 10.6, "slot": 2},
      {"group": "4-99 epg", "value": 8, "slot": 0},
      {"group": "4-99 epg", "value": 3.8, "slot": 1},
      {"group": "4-99 epg", "value": 3, "slot": -1},
      {"group": "≥100 epg", "value": 410, "slot": 0},
      {"group": "≥100 epg", "value": 65, "slot": -2},
      {"group": "≥100 epg", "value": 60, "slot": 0},
      {"group": "≥100 epg", "value": 37, "slot": 2},
      {"group": "≥100 epg", "value": 25, "slot": -1},
      {"group": "≥100 epg", "value": 11, "slot": 0},
      {"group": "≥100 epg", "value": 8, "slot": 1},
      {"group": "≥100 epg", "value": 5.5, "slot": -1},
      {"group": "Negative", "value": 830, "slot": 3},
      {"group": "Negative", "value": 780, "slot": -3},
      {"group": "Negative", "value": 520, "slot": -2},
      {"group": "Negative", "value": 500, "slot": 0},
      {"group": "Negative", "value": 520, "slot": 2},
      {"group": "Negative", "value": 300, "slot": -1},
      {"group": "Negative", "value": 300, "slot": 1},
      {"group": "Negative", "value": 220, "slot": -3},
      {"group": "Negative", "value": 220, "slot": 3},
      {"group": "Negative", "value": 150, "slot": -2},
      {"group": "Negative", "value": 150, "slot": 0},
      {"group": "Negative", "value": 150, "slot": 2},
      {"group": "Negative", "value": 100, "slot": -3},
      {"group": "Negative", "value": 100, "slot": -1},
      {"group": "Negative", "value": 100, "slot": 1},
      {"group": "Negative", "value": 100, "slot": 3},
      {"group": "Negative", "value": 70, "slot": -2},
      {"group": "Negative", "value": 70, "slot": 2},
      {"group": "Negative", "value": 50, "slot": -3},
      {"group": "Negative", "value": 50, "slot": -1},
      {"group": "Negative", "value": 50, "slot": 1},
      {"group": "Negative", "value": 50, "slot": 3},
      {"group": "Negative", "value": 35, "slot": -2},
      {"group": "Negative", "value": 35, "slot": 0},
      {"group": "Negative", "value": 25, "slot": -3},
      {"group": "Negative", "value": 25, "slot": 3},
      {"group": "Negative", "value": 18, "slot": -1},
      {"group": "Negative", "value": 18, "slot": 1}
    ],
    "C_stats": [
      {"group": "< 4 epg", "median": 208, "q1": 91, "q3": 500},
      {"group": "4-99 epg", "median": 270, "q1": 113, "q3": 1000},
      {"group": "≥100 epg", "median": 910, "q1": 270, "q3": 7200},
      {"group": "Negative", "median": 166, "q1": 91, "q3": 225}
    ],
    "D_stats": [
      {"group": "< 4 epg", "median": 8.5, "q1": 4, "q3": 12.4},
      {"group": "4-99 epg", "median": 5.3, "q1": 1.3, "q3": 11.7},
      {"group": "≥ 100 epg", "median": 6.7, "q1": 1.3, "q3": 10.4},
      {"group": "Negative", "median": 3.8, "q1": 1, "q3": 18}
    ],
    "E_stats": [
      {"group": "< 4 epg", "median": 550, "q1": 320, "q3": 1020},
      {"group": "4-99 epg", "median": 590, "q1": 350, "q3": 910},
      {"group": "≥100 epg", "median": 970, "q1": 1, "q3": 1830},
      {"group": "Negative", "median": 770, "q1": 520, "q3": 1000}
    ],
    "F_stats": [
      {"group": "< 4 epg", "median": 140, "q1": 86, "q3": 175},
      {"group": "4-99 epg", "median": 108, "q1": 65, "q3": 155},
      {"group": "≥100 epg", "median": 104, "q1": 75, "q3": 210},
      {"group": "Negative", "median": 104, "q1": 60, "q3": 190}
    ],
    "G_stats": [
      {"group": "< 4 epg", "median": 3.4, "q1": 1, "q3": 9},
      {"group": "4-99 epg", "median": 5.9, "q1": 1, "q3": 10.3},
      {"group": "≥100 epg", "median": 4.9, "q1": 3.4, "q3": 13.8},
      {"group": "Negative", "median": 3.4, "q1": 1.74, "q3": 8.1}
    ],
    "H_stats": [
      {"group": "< 4 epg", "median": 6900, "q1": 1, "q3": 16000},
      {"group": "4-99 epg", "median": 8700, "q1": 1, "q3": 22000},
      {"group": "≥100 epg", "median": 14500, "q1": 7000, "q3": 53000},
      {"group": "Negative", "median": 14500, "q1": 4500, "q3": 32000}
    ],
    "I_stats": [
      {"group": "< 4 epg", "median": 92, "q1": 4.9, "q3": 256},
      {"group": "4-99 epg", "median": 52, "q1": 15, "q3": 190},
      {"group": "≥100 epg", "median": 11.4, "q1": 1, "q3": 68},
      {"group": "Negative", "median": 88, "q1": 12.6, "q3": 275}
    ]
  },
  "config": {
    "font": "Liberation Sans",
    "view": {"stroke": null},
    "title": {"anchor": "start", "frame": "bounds", "fontSize": 18, "fontWeight": "bold", "color": "#000", "offset": 0},
    "axis": {"domainColor": "#000", "domainWidth": 2, "tickColor": "#000", "tickWidth": 2, "tickSize": 5, "labelColor": "#000", "labelFontWeight": "bold", "labelFontSize": 12, "titleFontWeight": "bold", "titleColor": "#000", "titleFontSize": 13, "grid": false, "labelPadding": 2},
    "axisX": {"labelAngle": -45, "labelPadding": 1, "tickSize": 4},
    "axisY": {"format": "d", "titlePadding": 6, "labelOverlap": false, "tickWidth": 1.5},
    "point": {"filled": true, "opacity": 1, "color": "#5e5e5e", "strokeWidth": 0},
    "tick": {"color": "#000", "thickness": 2.5},
    "rule": {"color": "#000", "strokeWidth": 2.5},
    "text": {"color": "#000"}
  },
  "vconcat": [
    {
      "spacing": 0,
      "hconcat": [
        {
          "width": 249, "height": 171,
          "title": {"text": "A"},
          "encoding": {
            "x": {"field": "group", "type": "nominal", "title": null, "scale": {"domain": ["< 4 epg", "4-99 epg", "≥100 epg", "Negative"], "paddingInner": 0, "paddingOuter": 0}},
            "y": {"field": "value", "type": "quantitative", "scale": {"type": "log", "domain": [1, 100000]},
                  "axis": {"title": "TNF-α [pg/ml]", "titleFontSize": 14,
                           "values": [1, 2, 3, 4, 5, 6, 7, 8, 9, 10, 20, 30, 40, 50, 60, 70, 80, 90, 100, 200, 300, 400, 500, 600, 700, 800, 900, 1000, 2000, 3000, 4000, 5000, 6000, 7000, 8000, 9000, 10000, 20000, 30000, 40000, 50000, 60000, 70000, 80000, 90000, 100000],
                           "labelExpr": "indexof(['1','10','100','1000','10000','100000','1000000'], datum.label) >= 0 ? datum.label : ''",
                           "tickSize": {"condition": {"test": "indexof(['1','10','100','1000','10000','100000','1000000'], datum.label) >= 0", "value": 5}, "value": -3}}}
          },
          "layer": [
            {"data": {"name": "A"}, "mark": {"type": "point", "size": 80},
             "encoding": {"xOffset": {"field": "slot", "type": "quantitative", "scale": {"domain": [-6, 6], "range": [1.1, 61.1]}},
                          "shape": {"field": "group", "type": "nominal", "scale": {"domain": ["< 4 epg", "4-99 epg", "≥100 epg", "Negative"], "range": ["circle", "square", "triangle-up", "triangle-down"]}, "legend": null}}},
            {"data": {"values": [{"group": "4-99 epg", "top": 150000, "bottom": 58000}, {"group": "≥100 epg", "top": 150000, "bottom": 58000}]}, "mark": {"type": "rule", "strokeWidth": 2},
             "encoding": {"y": {"field": "top", "type": "quantitative"}, "y2": {"field": "bottom"}}},
            {"data": {"values": [{"from": "4-99 epg", "to": "≥100 epg", "level": 100000, "label": "0.05*"}]}, "mark": {"type": "rule", "strokeWidth": 2},
             "encoding": {"x": {"field": "from", "type": "nominal", "bandPosition": 0.5}, "x2": {"field": "to", "bandPosition": 0.5}, "y": {"field": "level", "type": "quantitative"}}},
            {"data": {"values": [{"from": "4-99 epg", "level": 100000, "label": "0.05*"}]}, "mark": {"type": "text", "fontWeight": "bold", "fontSize": 11, "baseline": "bottom", "dy": -3, "dx": 31},
             "encoding": {"x": {"field": "from", "type": "nominal"}, "y": {"field": "level", "type": "quantitative"}, "text": {"field": "label"}}}
          ]
        },
        {
          "width": 276, "height": 179,
          "title": {"text": "B", "offset": -10},
          "encoding": {
            "x": {"field": "group", "type": "nominal", "title": null, "scale": {"domain": ["< 4 epg", "4-99 epg", "≥100 epg", "Negative"], "paddingInner": 0, "paddingOuter": 0}},
            "y": {"field": "value", "type": "quantitative", "scale": {"type": "log", "domain": [1, 1000]},
                  "axis": {"title": "IL-10 [pg/ml]", "titleFontSize": 14, "titlePadding": 2,
                           "values": [1, 2, 3, 4, 5, 6, 7, 8, 9, 10, 20, 30, 40, 50, 60, 70, 80, 90, 100, 200, 300, 400, 500, 600, 700, 800, 900, 1000],
                           "labelExpr": "indexof(['1','10','100','1000','10000','100000','1000000'], datum.label) >= 0 ? datum.label : ''",
                           "tickSize": {"condition": {"test": "indexof(['1','10','100','1000','10000','100000','1000000'], datum.label) >= 0", "value": 5}, "value": -3}}}
          },
          "layer": [
            {"data": {"name": "B"}, "mark": {"type": "point", "size": 80},
             "encoding": {"xOffset": {"field": "slot", "type": "quantitative", "scale": {"domain": [-6, 6], "range": [4.5, 64.5]}},
                          "shape": {"field": "group", "type": "nominal", "scale": {"domain": ["< 4 epg", "4-99 epg", "≥100 epg", "Negative"], "range": ["circle", "square", "triangle-up", "triangle-down"]}, "legend": null}}},
            {"data": {"values": [{"group": "< 4 epg", "top": 1590, "bottom": 960}, {"group": "4-99 epg", "top": 1590, "bottom": 960}]}, "mark": {"type": "rule", "strokeWidth": 2},
             "encoding": {"y": {"field": "top", "type": "quantitative"}, "y2": {"field": "bottom"}}},
            {"data": {"values": [{"from": "< 4 epg", "to": "4-99 epg", "level": 1360, "label": "0.05*"}]}, "mark": {"type": "rule", "strokeWidth": 2},
             "encoding": {"x": {"field": "from", "type": "nominal", "bandPosition": 0.5}, "x2": {"field": "to", "bandPosition": 0.5}, "y": {"field": "level", "type": "quantitative"}}},
            {"data": {"values": [{"from": "< 4 epg", "level": 1360, "label": "0.05*"}]}, "mark": {"type": "text", "fontWeight": "bold", "fontSize": 11, "baseline": "bottom", "dy": -3, "dx": 35},
             "encoding": {"x": {"field": "from", "type": "nominal"}, "y": {"field": "level", "type": "quantitative"}, "text": {"field": "label"}}}
          ]
        },
        {
          "width": 253, "height": 169,
          "title": {"text": "C"},
          "encoding": {
            "x": {"field": "group", "type": "nominal", "title": null, "scale": {"domain": ["< 4 epg", "4-99 epg", "≥100 epg", "Negative"], "paddingInner": 0, "paddingOuter": 0}},
            "y": {"field": "value", "type": "quantitative", "scale": {"type": "log", "domain": [1, 1000000]},
                  "axis": {"title": "CCL17 [pg/ml]", "titleFontSize": 14,
                           "values": [1, 2, 3, 4, 5, 6, 7, 8, 9, 10, 20, 30, 40, 50, 60, 70, 80, 90, 100, 200, 300, 400, 500, 600, 700, 800, 900, 1000, 2000, 3000, 4000, 5000, 6000, 7000, 8000, 9000, 10000, 20000, 30000, 40000, 50000, 60000, 70000, 80000, 90000, 100000, 200000, 300000, 400000, 500000, 600000, 700000, 800000, 900000, 1000000],
                           "labelExpr": "indexof(['1','10','100','1000','10000','100000','1000000'], datum.label) >= 0 ? datum.label : ''",
                           "tickSize": {"condition": {"test": "indexof(['1','10','100','1000','10000','100000','1000000'], datum.label) >= 0", "value": 5}, "value": -3}}}
          },
          "layer": [
            {"data": {"name": "C"}, "mark": {"type": "point", "size": 55},
             "encoding": {"xOffset": {"field": "slot", "type": "quantitative", "scale": {"domain": [-6, 6], "range": [1.6, 61.6]}},
                          "shape": {"field": "group", "type": "nominal", "scale": {"domain": ["< 4 epg", "4-99 epg", "≥100 epg", "Negative"], "range": ["circle", "square", "triangle-up", "triangle-down"]}, "legend": null}}},
            {"data": {"name": "C_stats"}, "transform": [{"fold": ["median", "q1", "q3"], "as": ["stat", "value"]}], "mark": {"type": "tick"},
             "encoding": {"size": {"field": "stat", "type": "nominal", "scale": {"domain": ["median", "q1", "q3"], "range": [40, 22, 22]}, "legend": null}}},
            {"data": {"name": "C_stats"}, "mark": {"type": "rule"}, "encoding": {"y": {"field": "q1", "type": "quantitative"}, "y2": {"field": "q3"}}},
            {"data": {"values": [{"group": "≥100 epg", "top": 1000000, "bottom": 318000}, {"group": "Negative", "top": 1000000, "bottom": 318000}]}, "mark": {"type": "rule", "strokeWidth": 2},
             "encoding": {"y": {"field": "top", "type": "quantitative"}, "y2": {"field": "bottom"}}},
            {"data": {"values": [{"from": "≥100 epg", "to": "Negative", "level": 564000, "label": "0.01*"}]}, "mark": {"type": "rule", "strokeWidth": 2},
             "encoding": {"x": {"field": "from", "type": "nominal", "bandPosition": 0.5}, "x2": {"field": "to", "bandPosition": 0.5}, "y": {"field": "level", "type": "quantitative"}}},
            {"data": {"values": [{"from": "≥100 epg", "level": 564000, "label": "0.01*"}]}, "mark": {"type": "text", "fontWeight": "bold", "fontSize": 11, "baseline": "bottom", "dy": -3, "dx": 30},
             "encoding": {"x": {"field": "from", "type": "nominal"}, "y": {"field": "level", "type": "quantitative"}, "text": {"field": "label"}}}
          ]
        }
      ]
    },
    {
      "spacing": 12,
      "hconcat": [
        {
          "width": 246, "height": 164,
          "title": {"text": "D"},
          "encoding": {
            "x": {"field": "group", "type": "nominal", "title": null, "scale": {"domain": ["< 4 epg", "4-99 epg", "≥ 100 epg", "Negative"], "paddingInner": 0, "paddingOuter": 0}},
            "y": {"field": "value", "type": "quantitative", "scale": {"type": "log", "domain": [1, 10000]},
                  "axis": {"title": "IL-6 [pg/ml]", "titleFontSize": 12.5,
                           "values": [1, 2, 3, 4, 5, 6, 7, 8, 9, 10, 20, 30, 40, 50, 60, 70, 80, 90, 100, 200, 300, 400, 500, 600, 700, 800, 900, 1000, 2000, 3000, 4000, 5000, 6000, 7000, 8000, 9000, 10000],
                           "labelExpr": "indexof(['1','10','100','1000','10000','100000','1000000'], datum.label) >= 0 ? datum.label : ''",
                           "tickSize": {"condition": {"test": "indexof(['1','10','100','1000','10000','100000','1000000'], datum.label) >= 0", "value": 5}, "value": -3}}}
          },
          "layer": [
            {"data": {"name": "D"}, "mark": {"type": "point", "size": 55},
             "encoding": {"xOffset": {"field": "slot", "type": "quantitative", "scale": {"domain": [-6, 6], "range": [0.75, 60.75]}},
                          "shape": {"field": "group", "type": "nominal", "scale": {"domain": ["< 4 epg", "4-99 epg", "≥ 100 epg", "Negative"], "range": ["circle", "square", "triangle-up", "triangle-down"]}, "legend": null}}},
            {"data": {"name": "D_stats"}, "transform": [{"fold": ["median", "q1", "q3"], "as": ["stat", "value"]}], "mark": {"type": "tick"},
             "encoding": {"size": {"field": "stat", "type": "nominal", "scale": {"domain": ["median", "q1", "q3"], "range": [40, 22, 22]}, "legend": null}}},
            {"data": {"name": "D_stats"}, "mark": {"type": "rule"}, "encoding": {"y": {"field": "q1", "type": "quantitative"}, "y2": {"field": "q3"}}},
            {"data": {"values": [{"group": "4-99 epg", "level": 18500, "label": "ns"}]}, "mark": {"type": "text", "fontWeight": "bold", "fontSize": 13, "baseline": "middle", "dx": 5},
             "encoding": {"y": {"field": "level", "type": "quantitative"}, "text": {"field": "label"}}}
          ]
        },
        {
          "width": 240, "height": 160,
          "title": {"text": "E"},
          "encoding": {
            "x": {"field": "group", "type": "nominal", "title": null, "scale": {"domain": ["< 4 epg", "4-99 epg", "≥100 epg", "Negative"], "paddingInner": 0, "paddingOuter": 0}},
            "y": {"field": "value", "type": "quantitative", "scale": {"type": "log", "domain": [1, 1000000]},
                  "axis": {"title": "IL-27 [pg/ml]", "titleFontSize": 12.5,
                           "values": [1, 2, 3, 4, 5, 6, 7, 8, 9, 10, 20, 30, 40, 50, 60, 70, 80, 90, 100, 200, 300, 400, 500, 600, 700, 800, 900, 1000, 2000, 3000, 4000, 5000, 6000, 7000, 8000, 9000, 10000, 20000, 30000, 40000, 50000, 60000, 70000, 80000, 90000, 100000, 200000, 300000, 400000, 500000, 600000, 700000, 800000, 900000, 1000000],
                           "labelExpr": "indexof(['1','10','100','1000','10000','100000','1000000'], datum.label) >= 0 ? datum.label : ''",
                           "tickSize": {"condition": {"test": "indexof(['1','10','100','1000','10000','100000','1000000'], datum.label) >= 0", "value": 5}, "value": -3}}}
          },
          "layer": [
            {"data": {"name": "E"}, "mark": {"type": "point", "size": 55},
             "encoding": {"xOffset": {"field": "slot", "type": "quantitative", "scale": {"domain": [-6, 6], "range": [0, 60]}},
                          "shape": {"field": "group", "type": "nominal", "scale": {"domain": ["< 4 epg", "4-99 epg", "≥100 epg", "Negative"], "range": ["circle", "square", "triangle-up", "triangle-down"]}, "legend": null}}},
            {"data": {"name": "E_stats"}, "transform": [{"fold": ["median", "q1", "q3"], "as": ["stat", "value"]}], "mark": {"type": "tick"},
             "encoding": {"size": {"field": "stat", "type": "nominal", "scale": {"domain": ["median", "q1", "q3"], "range": [40, 22, 22]}, "legend": null}}},
            {"data": {"name": "E_stats"}, "mark": {"type": "rule"}, "encoding": {"y": {"field": "q1", "type": "quantitative"}, "y2": {"field": "q3"}}},
            {"data": {"values": [{"group": "4-99 epg", "level": 5600000, "label": "ns"}]}, "mark": {"type": "text", "fontWeight": "bold", "fontSize": 13, "baseline": "middle", "dx": 15},
             "encoding": {"y": {"field": "level", "type": "quantitative"}, "text": {"field": "label"}}}
          ]
        },
        {
          "width": 248, "height": 167,
          "title": {"text": "F"},
          "encoding": {
            "x": {"field": "group", "type": "nominal", "title": null, "scale": {"domain": ["< 4 epg", "4-99 epg", "≥100 epg", "Negative"], "paddingInner": 0, "paddingOuter": 0}},
            "y": {"field": "value", "type": "quantitative", "scale": {"type": "log", "domain": [1, 10000]},
                  "axis": {"title": "CXCL10 [pg/ml]", "titleFontSize": 13,
                           "values": [1, 2, 3, 4, 5, 6, 7, 8, 9, 10, 20, 30, 40, 50, 60, 70, 80, 90, 100, 200, 300, 400, 500, 600, 700, 800, 900, 1000, 2000, 3000, 4000, 5000, 6000, 7000, 8000, 9000, 10000],
                           "labelExpr": "indexof(['1','10','100','1000','10000','100000','1000000'], datum.label) >= 0 ? datum.label : ''",
                           "tickSize": {"condition": {"test": "indexof(['1','10','100','1000','10000','100000','1000000'], datum.label) >= 0", "value": 5}, "value": -3}}}
          },
          "layer": [
            {"data": {"name": "F"}, "mark": {"type": "point", "size": 55},
             "encoding": {"xOffset": {"field": "slot", "type": "quantitative", "scale": {"domain": [-6, 6], "range": [1, 61]}},
                          "shape": {"field": "group", "type": "nominal", "scale": {"domain": ["< 4 epg", "4-99 epg", "≥100 epg", "Negative"], "range": ["circle", "square", "triangle-up", "triangle-down"]}, "legend": null}}},
            {"data": {"name": "F_stats"}, "transform": [{"fold": ["median", "q1", "q3"], "as": ["stat", "value"]}], "mark": {"type": "tick"},
             "encoding": {"size": {"field": "stat", "type": "nominal", "scale": {"domain": ["median", "q1", "q3"], "range": [40, 22, 22]}, "legend": null}}},
            {"data": {"name": "F_stats"}, "mark": {"type": "rule"}, "encoding": {"y": {"field": "q1", "type": "quantitative"}, "y2": {"field": "q3"}}},
            {"data": {"values": [{"group": "4-99 epg", "level": 18400, "label": "ns"}]}, "mark": {"type": "text", "fontWeight": "bold", "fontSize": 13, "baseline": "middle", "dx": -5},
             "encoding": {"y": {"field": "level", "type": "quantitative"}, "text": {"field": "label"}}}
          ]
        }
      ]
    },
    {
      "spacing": 11,
      "hconcat": [
        {
          "width": 251, "height": 171,
          "title": {"text": "G"},
          "encoding": {
            "x": {"field": "group", "type": "nominal", "title": null, "scale": {"domain": ["< 4 epg", "4-99 epg", "≥100 epg", "Negative"], "paddingInner": 0, "paddingOuter": 0}},
            "y": {"field": "value", "type": "quantitative", "scale": {"type": "log", "domain": [1, 1000]},
                  "axis": {"title": "CCL3 [pg/ml]", "titleFontSize": 14,
                           "values": [1, 2, 3, 4, 5, 6, 7, 8, 9, 10, 20, 30, 40, 50, 60, 70, 80, 90, 100, 200, 300, 400, 500, 600, 700, 800, 900, 1000],
                           "labelExpr": "indexof(['1','10','100','1000','10000','100000','1000000'], datum.label) >= 0 ? datum.label : ''",
                           "tickSize": {"condition": {"test": "indexof(['1','10','100','1000','10000','100000','1000000'], datum.label) >= 0", "value": 5}, "value": -3}}}
          },
          "layer": [
            {"data": {"name": "G"}, "mark": {"type": "point", "size": 55},
             "encoding": {"xOffset": {"field": "slot", "type": "quantitative", "scale": {"domain": [-6, 6], "range": [1.4, 61.4]}},
                          "shape": {"field": "group", "type": "nominal", "scale": {"domain": ["< 4 epg", "4-99 epg", "≥100 epg", "Negative"], "range": ["circle", "square", "triangle-up", "triangle-down"]}, "legend": null}}},
            {"data": {"name": "G_stats"}, "transform": [{"fold": ["median", "q1", "q3"], "as": ["stat", "value"]}], "mark": {"type": "tick"},
             "encoding": {"size": {"field": "stat", "type": "nominal", "scale": {"domain": ["median", "q1", "q3"], "range": [40, 22, 22]}, "legend": null}}},
            {"data": {"name": "G_stats"}, "mark": {"type": "rule"}, "encoding": {"y": {"field": "q1", "type": "quantitative"}, "y2": {"field": "q3"}}},
            {"data": {"values": [{"group": "4-99 epg", "level": 1560, "label": "ns"}]}, "mark": {"type": "text", "fontWeight": "bold", "fontSize": 13, "baseline": "middle", "dx": 8},
             "encoding": {"y": {"field": "level", "type": "quantitative"}, "text": {"field": "label"}}}
          ]
        },
        {
          "width": 240, "height": 160,
          "title": {"text": "H"},
          "encoding": {
            "x": {"field": "group", "type": "nominal", "title": null, "scale": {"domain": ["< 4 epg", "4-99 epg", "≥100 epg", "Negative"], "paddingInner": 0, "paddingOuter": 0}},
            "y": {"field": "value", "type": "quantitative", "scale": {"type": "log", "domain": [1, 1000000]},
                  "axis": {"title": "CCL5 [pg/ml]", "titleFontSize": 13,
                           "values": [1, 2, 3, 4, 5, 6, 7, 8, 9, 10, 20, 30, 40, 50, 60, 70, 80, 90, 100, 200, 300, 400, 500, 600, 700, 800, 900, 1000, 2000, 3000, 4000, 5000, 6000, 7000, 8000, 9000, 10000, 20000, 30000, 40000, 50000, 60000, 70000, 80000, 90000, 100000, 200000, 300000, 400000, 500000, 600000, 700000, 800000, 900000, 1000000],
                           "labelExpr": "indexof(['1','10','100','1000','10000','100000','1000000'], datum.label) >= 0 ? datum.label : ''",
                           "tickSize": {"condition": {"test": "indexof(['1','10','100','1000','10000','100000','1000000'], datum.label) >= 0", "value": 5}, "value": -3}}}
          },
          "layer": [
            {"data": {"name": "H"}, "mark": {"type": "point", "size": 55},
             "encoding": {"xOffset": {"field": "slot", "type": "quantitative", "scale": {"domain": [-6, 6], "range": [0, 60]}},
                          "shape": {"field": "group", "type": "nominal", "scale": {"domain": ["< 4 epg", "4-99 epg", "≥100 epg", "Negative"], "range": ["circle", "square", "triangle-up", "triangle-down"]}, "legend": null}}},
            {"data": {"name": "H_stats"}, "transform": [{"fold": ["median", "q1", "q3"], "as": ["stat", "value"]}], "mark": {"type": "tick"},
             "encoding": {"size": {"field": "stat", "type": "nominal", "scale": {"domain": ["median", "q1", "q3"], "range": [40, 22, 22]}, "legend": null}}},
            {"data": {"name": "H_stats"}, "mark": {"type": "rule"}, "encoding": {"y": {"field": "q1", "type": "quantitative"}, "y2": {"field": "q3"}}},
            {"data": {"values": [{"group": "4-99 epg", "level": 5600000, "label": "ns"}]}, "mark": {"type": "text", "fontWeight": "bold", "fontSize": 11, "baseline": "middle", "dx": 31},
             "encoding": {"y": {"field": "level", "type": "quantitative"}, "text": {"field": "label"}}}
          ]
        },
        {
          "width": 248, "height": 162,
          "title": {"text": "I"},
          "encoding": {
            "x": {"field": "group", "type": "nominal", "title": null, "scale": {"domain": ["< 4 epg", "4-99 epg", "≥100 epg", "Negative"], "paddingInner": 0, "paddingOuter": 0}},
            "y": {"field": "value", "type": "quantitative", "scale": {"type": "log", "domain": [1, 100000]},
                  "axis": {"title": "CCL11 [pg/ml]", "titleFontSize": 13,
                           "values": [1, 2, 3, 4, 5, 6, 7, 8, 9, 10, 20, 30, 40, 50, 60, 70, 80, 90, 100, 200, 300, 400, 500, 600, 700, 800, 900, 1000, 2000, 3000, 4000, 5000, 6000, 7000, 8000, 9000, 10000, 20000, 30000, 40000, 50000, 60000, 70000, 80000, 90000, 100000],
                           "labelExpr": "indexof(['1','10','100','1000','10000','100000','1000000'], datum.label) >= 0 ? datum.label : ''",
                           "tickSize": {"condition": {"test": "indexof(['1','10','100','1000','10000','100000','1000000'], datum.label) >= 0", "value": 5}, "value": -3}}}
          },
          "layer": [
            {"data": {"name": "I"}, "mark": {"type": "point", "size": 55},
             "encoding": {"xOffset": {"field": "slot", "type": "quantitative", "scale": {"domain": [-6, 6], "range": [1, 61]}},
                          "shape": {"field": "group", "type": "nominal", "scale": {"domain": ["< 4 epg", "4-99 epg", "≥100 epg", "Negative"], "range": ["circle", "square", "triangle-up", "triangle-down"]}, "legend": null}}},
            {"data": {"name": "I_stats"}, "transform": [{"fold": ["median", "q1", "q3"], "as": ["stat", "value"]}], "mark": {"type": "tick"},
             "encoding": {"size": {"field": "stat", "type": "nominal", "scale": {"domain": ["median", "q1", "q3"], "range": [40, 22, 22]}, "legend": null}}},
            {"data": {"name": "I_stats"}, "mark": {"type": "rule"}, "encoding": {"y": {"field": "q1", "type": "quantitative"}, "y2": {"field": "q3"}}},
            {"data": {"values": [{"group": "4-99 epg", "level": 176000, "label": "ns"}]}, "mark": {"type": "text", "fontSize": 14, "baseline": "middle"},
             "encoding": {"y": {"field": "level", "type": "quantitative"}, "text": {"field": "label"}}}
          ]
        }
      ]
    }
  ]
}
